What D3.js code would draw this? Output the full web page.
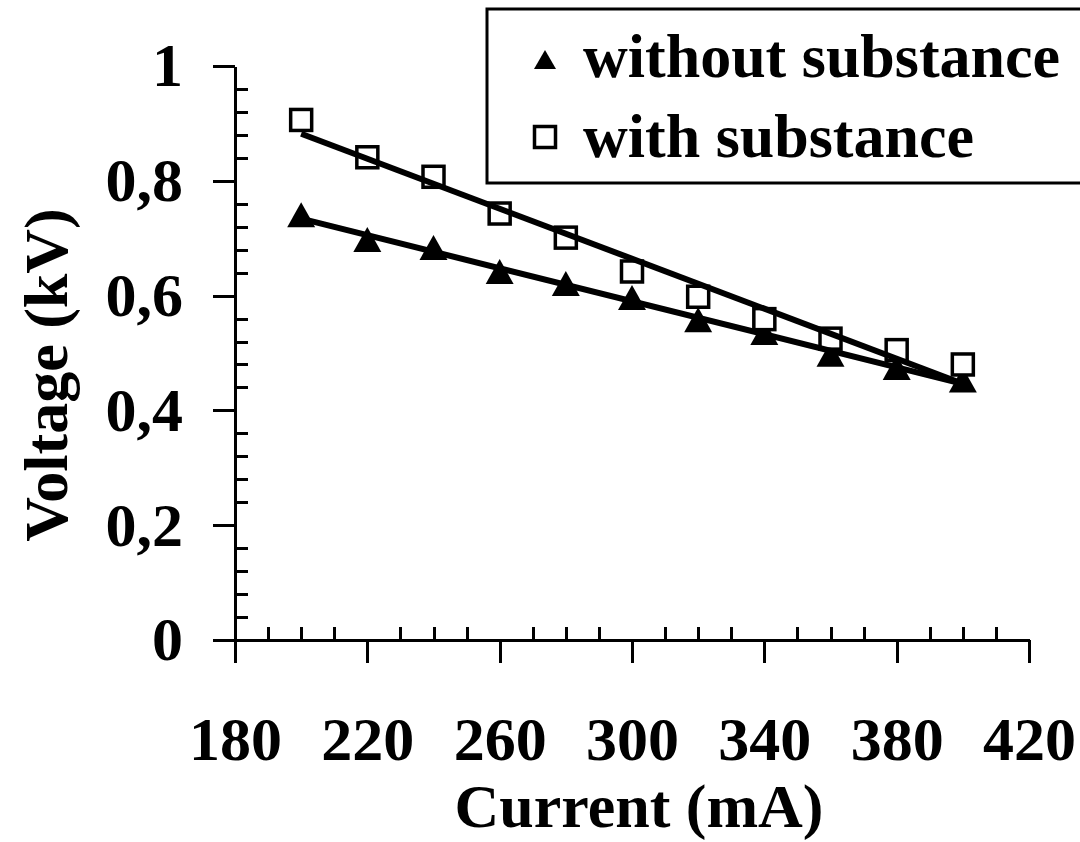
<!DOCTYPE html>
<html>
<head>
<meta charset="utf-8">
<script src="https://cdn.jsdelivr.net/npm/d3@7"></script>
<style>
  html, body { margin: 0; padding: 0; background: #fff; }
  svg { display: block; }
  text { font-family: "Liberation Serif", "Times New Roman", serif; font-weight: bold; fill: #000; }
</style>
</head>
<body>
<svg id="chart" width="1080" height="842"></svg>
<script>
// ---- data ----
const currents = [200, 220, 240, 260, 280, 300, 320, 340, 360, 380, 400];
const withoutSubstance = [0.740, 0.697, 0.683, 0.641, 0.620, 0.596, 0.557, 0.535, 0.497, 0.474, 0.452];
const withSubstance = [0.906, 0.841, 0.807, 0.743, 0.701, 0.642, 0.598, 0.559, 0.525, 0.505, 0.480];
const xTicks = [180, 220, 260, 300, 340, 380, 420];
const yTicks = [0, 0.2, 0.4, 0.6, 0.8, 1];
const yTickLabels = ["0", "0,2", "0,4", "0,6", "0,8", "1"];
const seriesNames = ["without substance", "with substance"];
const xTitle = "Current (mA)";
const yTitle = "Voltage (kV)";

// ---- layout ----
const svg = d3.select("#chart");
const x = d3.scaleLinear().domain([180, 420]).range([235, 1029]);
const y = d3.scaleLinear().domain([0, 1]).range([640, 66]);
const FS = 62;

function styleAxis(g) {
  g.selectAll("path.domain").attr("stroke", "#000").attr("stroke-width", 3);
  g.selectAll(".tick line").attr("stroke", "#000").attr("stroke-width", 3);
  g.selectAll(".tick text").style("font-size", FS + "px").style("font-family", "'Liberation Serif', serif").style("font-weight", "bold").attr("fill", "#000");
  g.selectAll("path, line").attr("shape-rendering", "crispEdges");
}

// minor ticks
const xMinor = d3.range(190, 420, 10).filter(v => !xTicks.includes(v));
const yMinor = d3.range(1, 25).map(i => +(i * 0.04).toFixed(2)).filter(v => !yTicks.some(t => Math.abs(t - v) < 1e-9));

svg.append("g").attr("transform", "translate(0,640)")
  .call(d3.axisBottom(x).tickValues(xMinor).tickSizeInner(-13).tickSizeOuter(0).tickFormat(""))
  .call(styleAxis);
svg.append("g").attr("transform", "translate(235,0)")
  .call(d3.axisLeft(y).tickValues(yMinor).tickSizeInner(-13).tickSizeOuter(0).tickFormat(""))
  .call(styleAxis);

// major axes
svg.append("g").attr("transform", "translate(0,640)")
  .call(d3.axisBottom(x).tickValues(xTicks).tickSizeInner(23).tickSizeOuter(0).tickPadding(53).tickFormat(d3.format("d")))
  .call(styleAxis);
svg.append("g").attr("transform", "translate(235,0)")
  .call(d3.axisLeft(y).tickValues(yTicks).tickSizeInner(22).tickSizeOuter(0).tickPadding(30)
    .tickFormat((d, i) => yTickLabels[i]))
  .call(styleAxis);
// extend x axis line left to the y major tick length
svg.append("line").attr("x1", 213).attr("x2", 235).attr("y1", 640).attr("y2", 640)
  .attr("stroke", "#000").attr("stroke-width", 3).attr("shape-rendering", "crispEdges");

// titles
svg.append("text").attr("x", 639).attr("y", 827).attr("text-anchor", "middle")
  .style("font-size", FS + "px").text(xTitle);
svg.append("text").attr("transform", "translate(67,375) rotate(-90)").attr("text-anchor", "middle")
  .style("font-size", FS + "px").text(yTitle);

// markers
const triPath = "M0,-13 L14,12 L-14,12 Z";
const sq = 21;

function regression(xs, ys) {
  const mx = d3.mean(xs), my = d3.mean(ys);
  const b = d3.sum(xs, (v, i) => (v - mx) * (ys[i] - my)) / d3.sum(xs, v => (v - mx) * (v - mx));
  return v => my + b * (v - mx);
}

svg.append("g").selectAll("path").data(currents).join("path")
  .attr("d", triPath)
  .attr("transform", (d, i) => `translate(${x(d)},${y(withoutSubstance[i])})`)
  .attr("fill", "#000");

svg.append("g").selectAll("rect").data(currents).join("rect")
  .attr("x", (d) => x(d) - sq / 2)
  .attr("y", (d, i) => y(withSubstance[i]) - sq / 2)
  .attr("width", sq).attr("height", sq)
  .attr("fill", "#fff").attr("stroke", "#000").attr("stroke-width", 3.5);

// trendlines (linear least squares)
[withoutSubstance, withSubstance].forEach(vals => {
  const f = regression(currents, vals);
  const ends = [d3.min(currents), d3.max(currents)];
  svg.append("path")
    .datum(ends)
    .attr("d", d3.line().x(d => x(d)).y(d => y(f(d))))
    .attr("stroke", "#000").attr("stroke-width", 6).attr("fill", "none");
});

// legend
const lg = svg.append("g");
lg.append("rect").attr("x", 487).attr("y", 9).attr("width", 640).attr("height", 174)
  .attr("fill", "#fff").attr("stroke", "#000").attr("stroke-width", 3);
lg.append("path").attr("d", "M0,-10 L11,9 L-11,9 Z").attr("transform", "translate(545,60)").attr("fill", "#000");
lg.append("rect").attr("x", 545 - sq / 2).attr("y", 137 - sq / 2).attr("width", sq).attr("height", sq)
  .attr("fill", "#fff").attr("stroke", "#000").attr("stroke-width", 3.5);
lg.append("text").attr("x", 583).attr("y", 77).style("font-size", FS + "px").text(seriesNames[0]);
lg.append("text").attr("x", 583).attr("y", 157).style("font-size", FS + "px").text(seriesNames[1]);
</script>
</body>
</html>
